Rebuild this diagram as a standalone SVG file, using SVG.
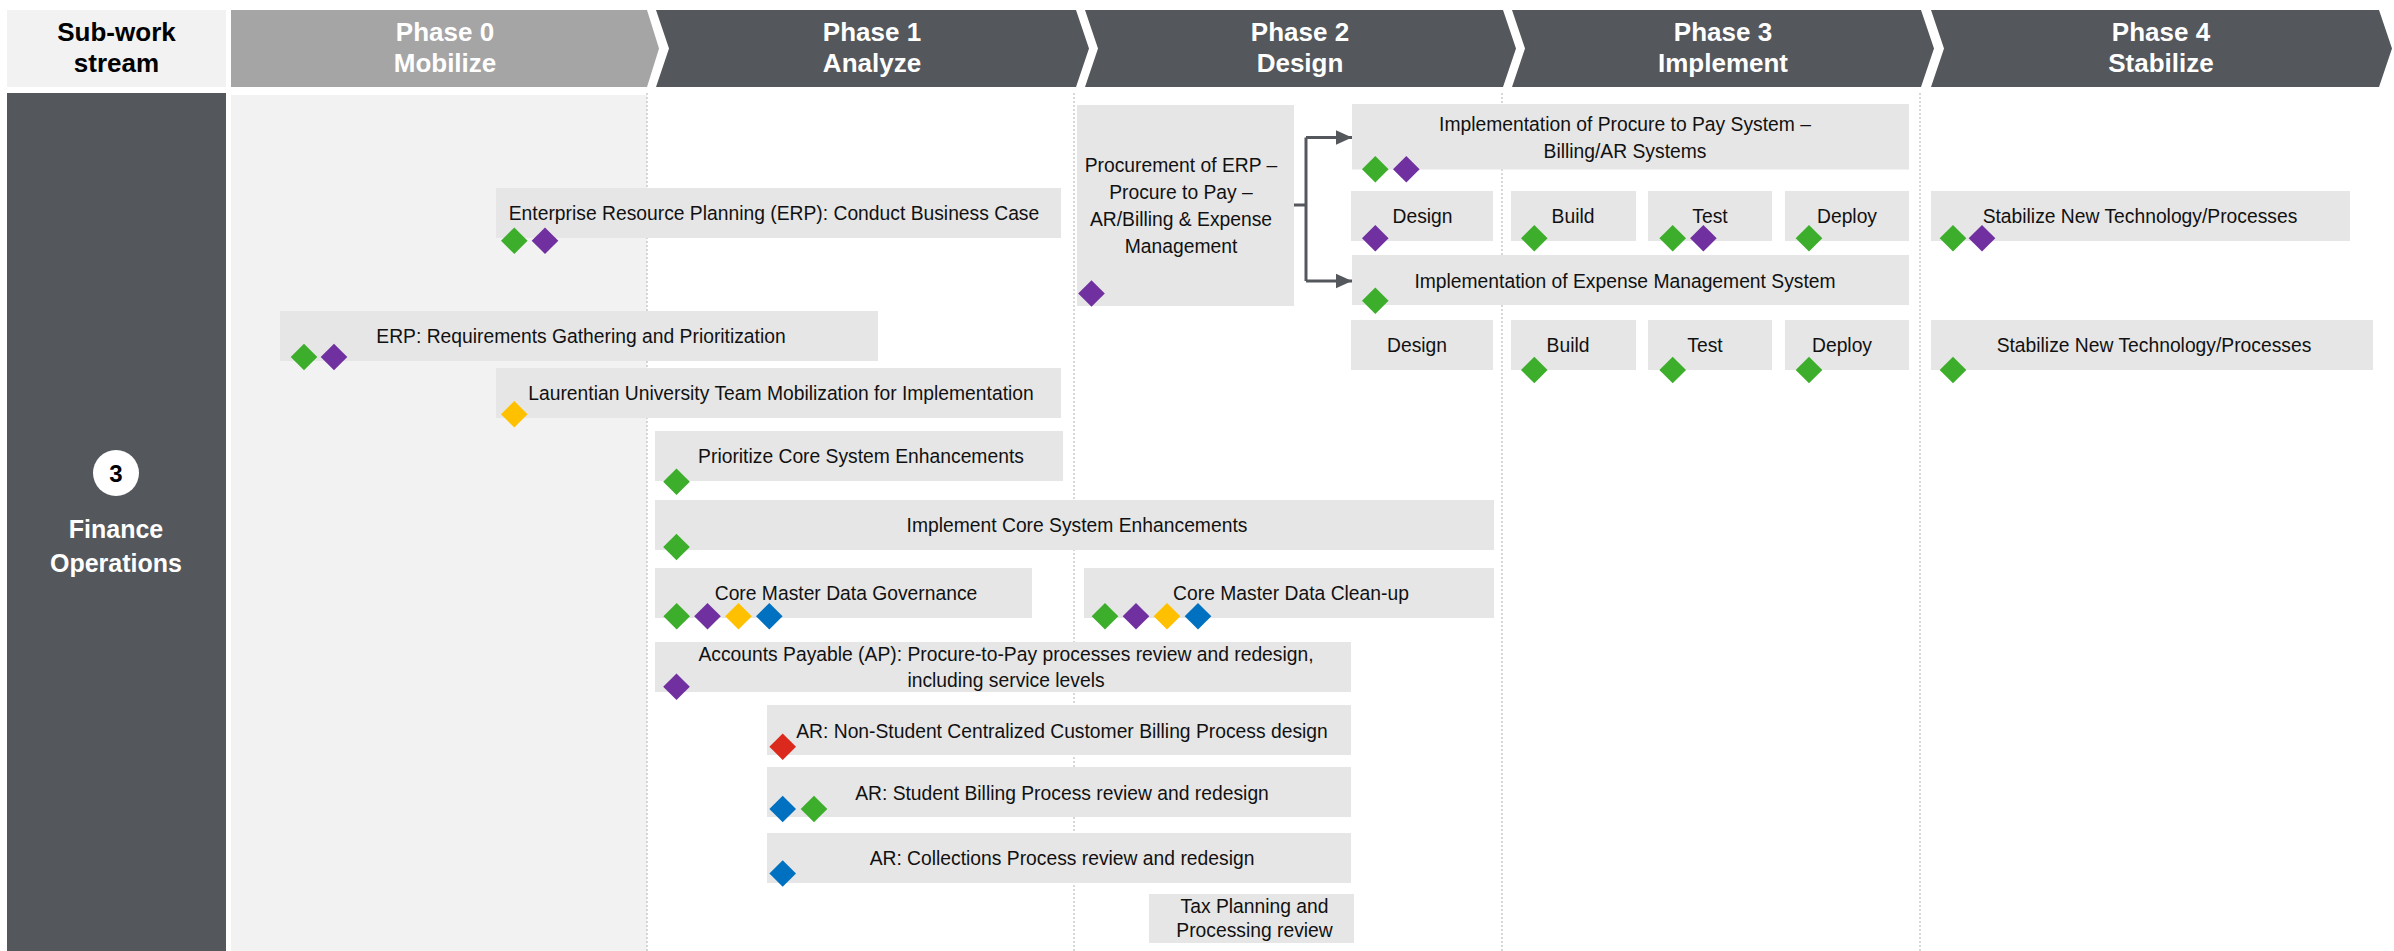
<svg xmlns="http://www.w3.org/2000/svg" width="2394" height="951" viewBox="0 0 2394 951">
<defs>
<style>
.hdr{font-family:"Liberation Sans",Arial,sans-serif;font-weight:bold;font-size:26px;text-anchor:middle}
.hw{fill:#FFFFFF}
.hb{fill:#000000}
.box{fill:#E6E6E6}
.t{font-family:"Liberation Sans",Arial,sans-serif;font-size:19.3px;fill:#111111;text-anchor:middle}
.g{fill:#3DAE2B}
.p{fill:#7030A0}
.y{fill:#FFC000}
.b{fill:#0070C0}
.r{fill:#DC291E}
.div{stroke:#BFBFBF;stroke-width:1.2;stroke-dasharray:2 2;fill:none}
.conn{stroke:#54575C;stroke-width:3;fill:none}
</style>
<path id="dm" d="M0,-13.3 L13.3,0 L0,13.3 L-13.3,0 Z"/>
<marker id="arr" markerWidth="6" markerHeight="6" refX="5.5" refY="3" orient="auto" markerUnits="strokeWidth">
<path d="M0,0.5 L5.5,3 L0,5.5 Z" fill="#54575C"/>
</marker>
</defs>
<rect x="0" y="0" width="2394" height="951" fill="#FFFFFF"/>

<g id="header">
<g id="h-sub"><rect x="7" y="10" width="219" height="77" fill="#F2F2F2"/><text class="hdr hb" x="116.5" y="41">Sub-work</text><text class="hdr hb" x="116.5" y="72">stream</text></g>
<g id="h-p0"><path d="M231,10 L647,10 L659,48.5 L647,87 L231,87 Z" fill="#A5A5A5"/><text class="hdr hw" x="445" y="41">Phase 0</text><text class="hdr hw" x="445" y="72">Mobilize</text></g>
<g id="h-p1"><path d="M656,10 L1076,10 L1089,48.5 L1076,87 L656,87 L669,48.5 Z" fill="#54575C"/><text class="hdr hw" x="872" y="41">Phase 1</text><text class="hdr hw" x="872" y="72">Analyze</text></g>
<g id="h-p2"><path d="M1085,10 L1503,10 L1516,48.5 L1503,87 L1085,87 L1098,48.5 Z" fill="#54575C"/><text class="hdr hw" x="1300" y="41">Phase 2</text><text class="hdr hw" x="1300" y="72">Design</text></g>
<g id="h-p3"><path d="M1512,10 L1921,10 L1934,48.5 L1921,87 L1512,87 L1525,48.5 Z" fill="#54575C"/><text class="hdr hw" x="1723" y="41">Phase 3</text><text class="hdr hw" x="1723" y="72">Implement</text></g>
<g id="h-p4"><path d="M1931,10 L2379,10 L2392,48.5 L2379,87 L1931,87 L1944,48.5 Z" fill="#54575C"/><text class="hdr hw" x="2161" y="41">Phase 4</text><text class="hdr hw" x="2161" y="72">Stabilize</text></g>
</g>

<g id="lane">
<rect x="7" y="93" width="219" height="858" fill="#54575C"/>
<circle cx="116" cy="473" r="23" fill="#FFFFFF"/>
<text class="hdr hb" x="116" y="482" style="font-size:24px">3</text>
<text class="hdr hw" x="116" y="538" style="font-size:25px">Finance</text>
<text class="hdr hw" x="116" y="572" style="font-size:25px">Operations</text>
<rect x="231" y="95" width="416" height="856" fill="#F2F2F2"/>
<line class="div" x1="647" y1="93" x2="647" y2="951"/>
<line class="div" x1="1074" y1="93" x2="1074" y2="951"/>
<line class="div" x1="1502" y1="93" x2="1502" y2="951"/>
<line class="div" x1="1920" y1="93" x2="1920" y2="951"/>
</g>

<g id="n-erp-case"><rect class="box" x="496" y="188" width="565" height="50"/><text class="t" x="774" y="220">Enterprise Resource Planning (ERP): Conduct Business Case</text><use href="#dm" class="g" x="514.3" y="240.7"/><use href="#dm" class="p" x="545" y="240.7"/></g>
<g id="n-erp-req"><rect class="box" x="280" y="311" width="598" height="50"/><text class="t" x="581" y="343">ERP: Requirements Gathering and Prioritization</text><use href="#dm" class="g" x="304" y="357"/><use href="#dm" class="p" x="334" y="357"/></g>
<g id="n-laur"><rect class="box" x="496" y="368" width="565" height="50"/><text class="t" x="781" y="400">Laurentian University Team Mobilization for Implementation</text><use href="#dm" class="y" x="514.3" y="414.3"/></g>
<g id="n-prio"><rect class="box" x="655" y="431" width="408" height="50"/><text class="t" x="861" y="463">Prioritize Core System Enhancements</text><use href="#dm" class="g" x="676.5" y="481.7"/></g>
<g id="n-impl-core"><rect class="box" x="655" y="500" width="839" height="50"/><text class="t" x="1077" y="532">Implement Core System Enhancements</text><use href="#dm" class="g" x="676.5" y="547"/></g>
<g id="n-cmd-gov"><rect class="box" x="655" y="568" width="377" height="50"/><text class="t" x="846" y="600">Core Master Data Governance</text><use href="#dm" class="g" x="676.7" y="616.3"/><use href="#dm" class="p" x="707.5" y="616.3"/><use href="#dm" class="y" x="738.5" y="616.3"/><use href="#dm" class="b" x="769.3" y="616.3"/></g>
<g id="n-cmd-clean"><rect class="box" x="1084" y="568" width="410" height="50"/><text class="t" x="1291" y="600">Core Master Data Clean-up</text><use href="#dm" class="g" x="1105" y="616.3"/><use href="#dm" class="p" x="1136" y="616.3"/><use href="#dm" class="y" x="1167" y="616.3"/><use href="#dm" class="b" x="1198" y="616.3"/></g>
<g id="n-ap"><rect class="box" x="655" y="642" width="696" height="50"/><text class="t" x="1006" y="661">Accounts Payable (AP): Procure-to-Pay processes review and redesign,</text><text class="t" x="1006" y="687">including service levels</text><use href="#dm" class="p" x="676.5" y="686.7"/></g>
<g id="n-ar-ns"><rect class="box" x="767" y="705" width="584" height="50"/><text class="t" x="1062" y="737.5">AR: Non-Student Centralized Customer Billing Process design</text><use href="#dm" class="r" x="782.7" y="746.7"/></g>
<g id="n-ar-st"><rect class="box" x="767" y="767" width="584" height="50"/><text class="t" x="1062" y="799.5">AR: Student Billing Process review and redesign</text><use href="#dm" class="b" x="782.7" y="809"/><use href="#dm" class="g" x="814" y="809"/></g>
<g id="n-ar-col"><rect class="box" x="767" y="833" width="584" height="50"/><text class="t" x="1062" y="865">AR: Collections Process review and redesign</text><use href="#dm" class="b" x="782.7" y="873.5"/></g>
<g id="n-tax"><rect class="box" x="1149" y="894" width="205" height="49"/><text class="t" x="1254.5" y="913">Tax Planning and</text><text class="t" x="1254.5" y="937">Processing review</text></g>

<g id="n-proc"><rect class="box" x="1077" y="105" width="217" height="201"/><text class="t" x="1181" y="172">Procurement of ERP –</text><text class="t" x="1181" y="199">Procure to Pay –</text><text class="t" x="1181" y="226">AR/Billing &amp; Expense</text><text class="t" x="1181" y="253">Management</text><use href="#dm" class="p" x="1091.5" y="293.5"/></g>
<g id="n-p2p"><rect class="box" x="1352" y="104" width="557" height="65.5"/><text class="t" x="1625" y="131">Implementation of Procure to Pay System –</text><text class="t" x="1625" y="157.5">Billing/AR Systems</text><use href="#dm" class="g" x="1375.3" y="169.3"/><use href="#dm" class="p" x="1406.3" y="169.3"/></g>
<g id="n-p2p-design"><rect class="box" x="1351" y="191" width="142" height="50"/><text class="t" x="1422.5" y="223">Design</text><use href="#dm" class="p" x="1375.3" y="238.3"/></g>
<g id="n-p2p-build"><rect class="box" x="1511" y="191" width="125" height="50"/><text class="t" x="1573" y="223">Build</text><use href="#dm" class="g" x="1534.3" y="238.3"/></g>
<g id="n-p2p-test"><rect class="box" x="1648" y="191" width="124" height="50"/><text class="t" x="1710" y="223">Test</text><use href="#dm" class="g" x="1672.7" y="238.3"/><use href="#dm" class="p" x="1703.4" y="238.3"/></g>
<g id="n-p2p-deploy"><rect class="box" x="1785" y="191" width="124" height="50"/><text class="t" x="1847" y="223">Deploy</text><use href="#dm" class="g" x="1809" y="238.3"/></g>
<g id="n-p2p-stab"><rect class="box" x="1931" y="191" width="419" height="50"/><text class="t" x="2140" y="223">Stabilize New Technology/Processes</text><use href="#dm" class="g" x="1953" y="238.3"/><use href="#dm" class="p" x="1982" y="238.3"/></g>
<g id="n-exp"><rect class="box" x="1352" y="255" width="557" height="50"/><text class="t" x="1625" y="287.5">Implementation of Expense Management System</text><use href="#dm" class="g" x="1375.3" y="300.7"/></g>
<g id="n-exp-design"><rect class="box" x="1351" y="320" width="142" height="50"/><text class="t" x="1417" y="352">Design</text></g>
<g id="n-exp-build"><rect class="box" x="1511" y="320" width="125" height="50"/><text class="t" x="1568" y="352">Build</text><use href="#dm" class="g" x="1534.3" y="370"/></g>
<g id="n-exp-test"><rect class="box" x="1648" y="320" width="124" height="50"/><text class="t" x="1705" y="352">Test</text><use href="#dm" class="g" x="1672.7" y="370"/></g>
<g id="n-exp-deploy"><rect class="box" x="1785" y="320" width="124" height="50"/><text class="t" x="1842" y="352">Deploy</text><use href="#dm" class="g" x="1809" y="370"/></g>
<g id="n-exp-stab"><rect class="box" x="1931" y="320" width="442" height="50"/><text class="t" x="2154" y="352">Stabilize New Technology/Processes</text><use href="#dm" class="g" x="1953" y="370"/></g>

<g id="connectors">
<path class="conn" d="M1294,205 L1306,205"/>
<path class="conn" d="M1306,137.5 L1306,281"/>
<path class="conn" d="M1306,137.5 L1352,137.5" marker-end="url(#arr)"/>
<path class="conn" d="M1306,281 L1352,281" marker-end="url(#arr)"/>
</g>
</svg>
